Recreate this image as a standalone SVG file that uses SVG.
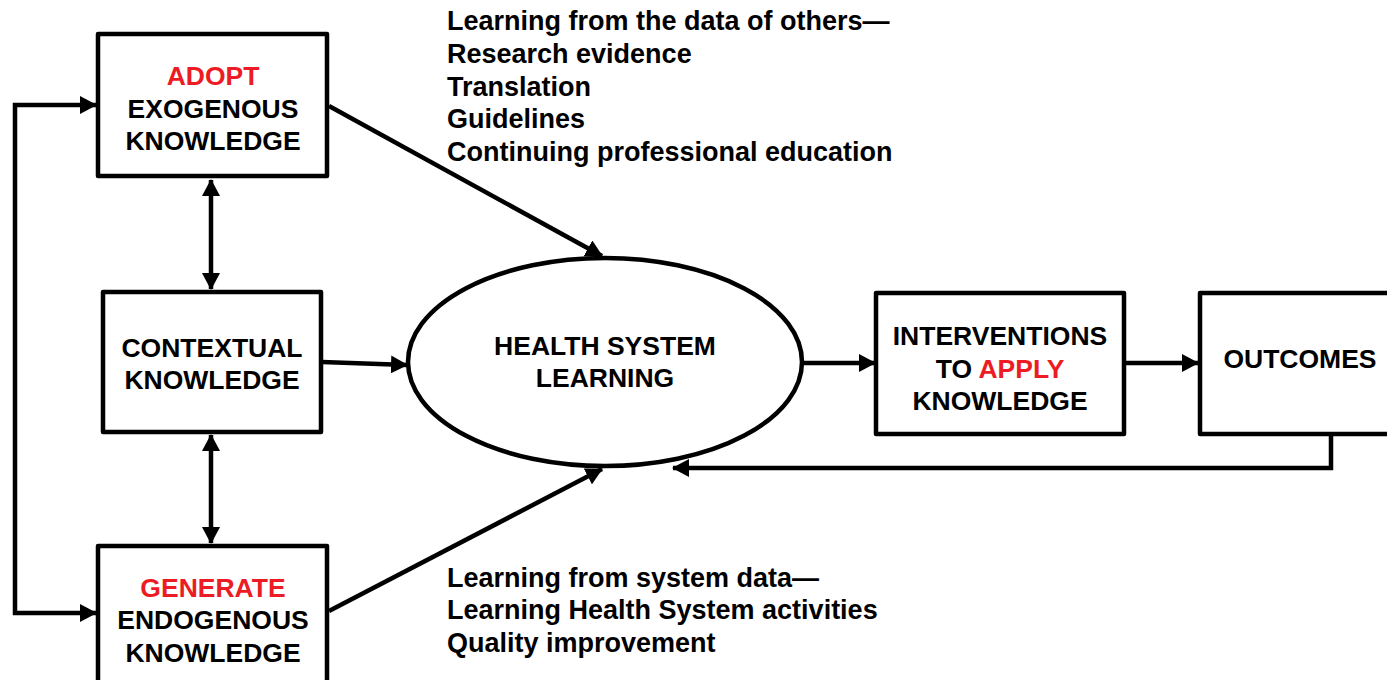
<svg xmlns="http://www.w3.org/2000/svg" width="1387" height="680" viewBox="0 0 1387 680">
<style>
.box{fill:#fff;stroke:#000;stroke-width:4.5;stroke-linejoin:round}
.t{font-family:"Liberation Sans",Arial,sans-serif;font-weight:bold;font-size:26.5px;fill:#000}
.a{font-size:27px}
.c{text-anchor:middle}
.red{fill:#ED1C24}
.ln{fill:none;stroke:#000;stroke-width:4.5}
</style>
<defs>
<marker id="ah" markerUnits="userSpaceOnUse" markerWidth="17" markerHeight="18" refX="16" refY="9" orient="auto-start-reverse" viewBox="0 0 17 18">
<path d="M0,0 L17,9 L0,18 z" fill="#000"/>
</marker>
</defs>
<rect width="1387" height="680" fill="#fff"/>
<g id="connectors">
<path class="ln" d="M96,105 H15 V613 H96" marker-start="url(#ah)" marker-end="url(#ah)"/>
<line class="ln" x1="211" y1="180" x2="211" y2="289" marker-start="url(#ah)" marker-end="url(#ah)"/>
<line class="ln" x1="211" y1="435" x2="211" y2="543" marker-start="url(#ah)" marker-end="url(#ah)"/>
<line class="ln" x1="329" y1="106" x2="602" y2="256" marker-end="url(#ah)"/>
<line class="ln" x1="329" y1="611" x2="602" y2="469" marker-end="url(#ah)"/>
<line class="ln" x1="322" y1="362" x2="407" y2="365" marker-end="url(#ah)"/>
<line class="ln" x1="802" y1="363" x2="875" y2="363" marker-end="url(#ah)"/>
<line class="ln" x1="1125" y1="363" x2="1198" y2="363" marker-end="url(#ah)"/>
<path class="ln" d="M1331,435 V468 H673" marker-end="url(#ah)"/>
</g>
<g id="adopt">
<rect class="box" x="98" y="34" width="229" height="142"/>
<text class="t c" x="213" y="85"><tspan class="red">ADOPT</tspan></text>
<text class="t c" x="213" y="118">EXOGENOUS</text>
<text class="t c" x="213" y="150">KNOWLEDGE</text>
</g>
<g id="contextual">
<rect class="box" x="103" y="292" width="218" height="140"/>
<text class="t c" x="212" y="357">CONTEXTUAL</text>
<text class="t c" x="212" y="389">KNOWLEDGE</text>
</g>
<g id="generate">
<rect class="box" x="98" y="546" width="229" height="142"/>
<text class="t c" x="213" y="597"><tspan class="red">GENERATE</tspan></text>
<text class="t c" x="213" y="629">ENDOGENOUS</text>
<text class="t c" x="213" y="662">KNOWLEDGE</text>
</g>
<g id="learning">
<ellipse cx="605" cy="362" rx="197" ry="104" fill="#fff" stroke="#000" stroke-width="4.5"/>
<text class="t c" x="605" y="355">HEALTH SYSTEM</text>
<text class="t c" x="605" y="387">LEARNING</text>
</g>
<g id="interventions">
<rect class="box" x="876" y="293" width="248" height="141"/>
<text class="t c" x="1000" y="345">INTERVENTIONS</text>
<text class="t c" x="1000" y="378">TO <tspan class="red">APPLY</tspan></text>
<text class="t c" x="1000" y="410">KNOWLEDGE</text>
</g>
<g id="outcomes">
<rect class="box" x="1200" y="293" width="200" height="141"/>
<text class="t c" x="1300" y="368">OUTCOMES</text>
</g>
<g id="annotation-top">
<text class="t a" x="447" y="30">Learning from the data of others—</text>
<text class="t a" x="447" y="63">Research evidence</text>
<text class="t a" x="447" y="96">Translation</text>
<text class="t a" x="447" y="128">Guidelines</text>
<text class="t a" x="447" y="161">Continuing professional education</text>
</g>
<g id="annotation-bottom">
<text class="t a" x="447" y="587">Learning from system data—</text>
<text class="t a" x="447" y="619">Learning Health System activities</text>
<text class="t a" x="447" y="652">Quality improvement</text>
</g>
</svg>
